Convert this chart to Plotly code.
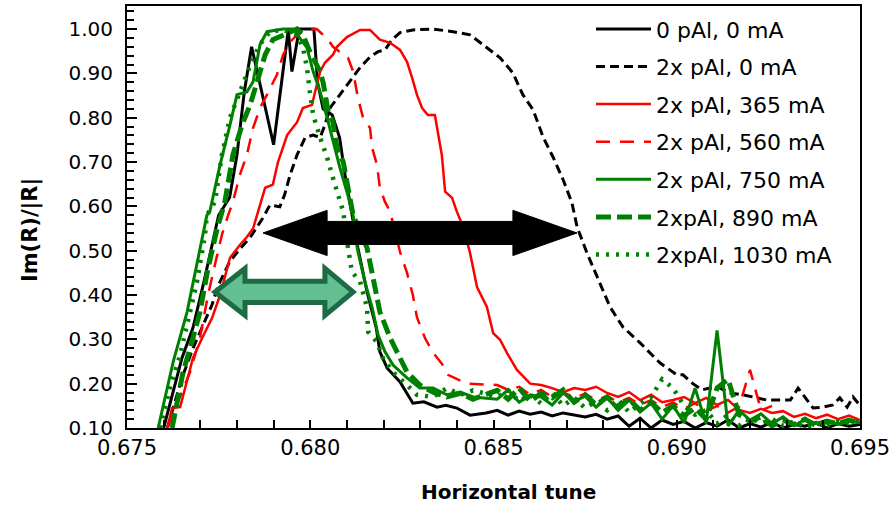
import plotly.graph_objects as go

# ---------------- data ----------------
tail_tune = [0.6848, 0.6851, 0.6854, 0.6857, 0.6860, 0.6863, 0.6866, 0.6869, 0.6872,
             0.6875, 0.6878, 0.6881, 0.6884, 0.6887, 0.6890, 0.6893, 0.6896, 0.6899,
             0.6902, 0.6905, 0.6908, 0.6911, 0.6914, 0.6917, 0.6920, 0.6923, 0.6926,
             0.6929, 0.6932, 0.6935, 0.6938, 0.6941, 0.6944, 0.6947, 0.6950]

# 0 pAl, 0 mA
k0_x = [0.6760, 0.6765, 0.6768, 0.6771, 0.6775, 0.6778, 0.6780, 0.6782, 0.6784, 0.6790,
        0.6794, 0.6795, 0.6797, 0.6801, 0.6802, 0.68035, 0.6806, 0.6808, 0.68095, 0.6811,
        0.6813, 0.68155, 0.6818, 0.6819, 0.6821, 0.68245, 0.6828, 0.6831, 0.68346, 0.6837,
        0.6840, 0.68436]
k0_y = [0.10, 0.258, 0.326, 0.43, 0.58, 0.62, 0.716, 0.858, 0.96, 0.739,
        0.998, 0.904, 1.0, 1.0, 0.88, 0.82, 0.806, 0.755, 0.671, 0.603,
        0.506, 0.407, 0.326, 0.272, 0.235, 0.204, 0.156, 0.159, 0.147, 0.151,
        0.145, 0.129]
k0_tail = [0.134, 0.140, 0.129, 0.138, 0.131, 0.136, 0.127, 0.134, 0.129, 0.125, 0.131,
           0.120, 0.127, 0.104, 0.122, 0.100, 0.118, 0.108, 0.115, 0.100, 0.112, 0.104,
           0.118, 0.100, 0.110, 0.102, 0.113, 0.100, 0.108, 0.104, 0.112, 0.100, 0.110,
           0.104, 0.108]

# 2x pAl, 0 mA
k1_x = [0.6761, 0.6765, 0.6768, 0.67707, 0.67732, 0.67748, 0.6778, 0.6781, 0.67836, 0.67871,
        0.6789, 0.67917, 0.6793, 0.67945, 0.67964, 0.67986, 0.68008, 0.68027, 0.6804, 0.68054,
        0.68081, 0.68108, 0.68136, 0.68163, 0.68185, 0.68204, 0.68223, 0.68245, 0.6828, 0.68335,
        0.6839, 0.68436, 0.68471, 0.68518, 0.68553, 0.6858, 0.68608, 0.68635, 0.68662, 0.6869,
        0.68714, 0.68728, 0.68755, 0.68782, 0.68818, 0.68853, 0.689, 0.68954, 0.69, 0.69017,
        0.69044, 0.69069, 0.6909, 0.69118, 0.69145, 0.6918, 0.69208, 0.69246, 0.69282, 0.6931,
        0.69331, 0.69355, 0.69372, 0.69399, 0.69426, 0.69445, 0.69465, 0.69481, 0.69495]
k1_y = [0.10, 0.213, 0.28, 0.333, 0.378, 0.42, 0.475, 0.506, 0.53, 0.574,
        0.603, 0.599, 0.626, 0.671, 0.716, 0.755, 0.761, 0.755, 0.784, 0.822,
        0.852, 0.88, 0.913, 0.937, 0.949, 0.953, 0.976, 0.992, 0.998, 1.0,
        0.994, 0.987, 0.965, 0.935, 0.901, 0.852, 0.818, 0.757, 0.712, 0.66,
        0.608, 0.554, 0.495, 0.441, 0.373, 0.328, 0.292, 0.247, 0.22, 0.22,
        0.20, 0.186, 0.19, 0.19, 0.179, 0.175, 0.17, 0.163, 0.163, 0.163,
        0.19, 0.163, 0.145, 0.147, 0.152, 0.168, 0.147, 0.17, 0.156]

# 2x pAl, 365 mA
k2_x = [0.6761, 0.67623, 0.67645, 0.67664, 0.6768, 0.67705, 0.67732, 0.67754, 0.67781, 0.67808,
        0.67827, 0.67844, 0.67855, 0.67877, 0.67898, 0.67912, 0.67937, 0.67964, 0.6798, 0.68005,
        0.68013, 0.68027, 0.6804, 0.68062, 0.68073, 0.681, 0.68136, 0.68163, 0.6819, 0.68218,
        0.68245, 0.68264, 0.68278, 0.68291, 0.68305, 0.68321, 0.6834, 0.68349, 0.68359, 0.68368,
        0.68387, 0.684, 0.68417, 0.68436, 0.68455, 0.68482, 0.68499, 0.68518, 0.68537, 0.68564,
        0.68591]
k2_y = [0.10, 0.145, 0.147, 0.204, 0.258, 0.303, 0.348, 0.40, 0.484, 0.513,
        0.531, 0.55, 0.58, 0.642, 0.649, 0.70, 0.761, 0.79, 0.822, 0.829,
        0.858, 0.904, 0.924, 0.942, 0.96, 0.982, 0.998, 0.998, 0.976, 0.969,
        0.953, 0.926, 0.89, 0.852, 0.822, 0.806, 0.806, 0.761, 0.716, 0.633,
        0.619, 0.588, 0.554, 0.495, 0.418, 0.373, 0.314, 0.299, 0.269, 0.231,
        0.208]
k2_tail = [0.20, 0.197, 0.19, 0.181, 0.19, 0.186, 0.193, 0.179, 0.17, 0.181, 0.163,
           0.175, 0.158, 0.163, 0.17, 0.156, 0.168, 0.152, 0.163, 0.141, 0.134, 0.143,
           0.134, 0.138, 0.125, 0.132, 0.122, 0.13, 0.12, 0.128, 0.118]

# 2x pAl, 560 mA
k3_x = [0.6761, 0.67672, 0.67699, 0.67721, 0.67746, 0.67759, 0.67776, 0.67789, 0.67808, 0.67827,
        0.67844, 0.67863, 0.67882, 0.67909, 0.67926, 0.67945, 0.67964, 0.67991, 0.68018, 0.68049,
        0.68062, 0.68103, 0.68117, 0.6813, 0.68144, 0.68163, 0.68169, 0.68182, 0.6819, 0.68204,
        0.68218, 0.68245, 0.68264, 0.6828, 0.68291, 0.68313, 0.68335, 0.68359, 0.68376, 0.684,
        0.68428]
k3_y = [0.10, 0.226, 0.303, 0.40, 0.49, 0.536, 0.58, 0.61, 0.671, 0.716,
        0.777, 0.822, 0.852, 0.897, 0.942, 0.971, 0.987, 0.998, 1.0, 0.976,
        0.96, 0.935, 0.904, 0.845, 0.80, 0.777, 0.732, 0.694, 0.642, 0.61,
        0.588, 0.497, 0.45, 0.40, 0.35, 0.303, 0.27, 0.245, 0.22, 0.21,
        0.20]
k3_tail = [0.197, 0.186, 0.193, 0.175, 0.186, 0.17, 0.181, 0.168, 0.177, 0.163, 0.172,
           0.158, 0.168, 0.152, 0.163, 0.147, 0.158, 0.143, 0.156, 0.138, 0.15, 0.135,
           0.148, 0.231, 0.14, 0.15]

# 2x pAl, 750 mA
k4_x = [0.67585, 0.67626, 0.67664, 0.67691, 0.67718, 0.67726, 0.67754, 0.67781, 0.678, 0.67827,
        0.67844, 0.67863, 0.67882, 0.67909, 0.67926, 0.67953, 0.67972, 0.67991, 0.68008, 0.68027,
        0.68046, 0.68062, 0.68081, 0.681, 0.68117, 0.68128, 0.68149, 0.68169, 0.68185, 0.68204,
        0.68226, 0.68264, 0.68299, 0.68335, 0.68373, 0.68409, 0.68444]
k4_y = [0.10, 0.249, 0.362, 0.468, 0.58, 0.588, 0.694, 0.784, 0.852, 0.858,
        0.881, 0.965, 0.994, 0.998, 1.0, 1.0, 0.98, 0.958, 0.904, 0.858,
        0.80, 0.746, 0.687, 0.633, 0.58, 0.506, 0.43, 0.371, 0.31, 0.272,
        0.242, 0.213, 0.19, 0.19, 0.175, 0.181, 0.17]
k4_tail = [0.165, 0.186, 0.158, 0.175, 0.17, 0.152, 0.179, 0.16, 0.172, 0.147, 0.168,
           0.14, 0.163, 0.136, 0.156, 0.12, 0.15, 0.112, 0.19, 0.11, 0.32, 0.105,
           0.14, 0.118, 0.132, 0.11, 0.125, 0.105, 0.12, 0.11, 0.118, 0.108, 0.115, 0.112]

# 2xpAl, 890 mA
k5_x = [0.67623, 0.67636, 0.67653, 0.67677, 0.67699, 0.67721, 0.67746, 0.67767, 0.67789, 0.67814,
        0.67836, 0.67855, 0.67877, 0.67898, 0.67926, 0.67945, 0.67964, 0.6798, 0.67999, 0.68027,
        0.68035, 0.68049, 0.68062, 0.68073, 0.6809, 0.68103, 0.68117, 0.68155, 0.68177, 0.6819,
        0.68218, 0.6824, 0.68264, 0.68299, 0.68335, 0.68373, 0.6841, 0.68444]
k5_y = [0.10, 0.159, 0.226, 0.294, 0.362, 0.46, 0.55, 0.61, 0.716, 0.784,
        0.829, 0.881, 0.942, 0.976, 0.987, 0.994, 1.0, 0.987, 0.949, 0.904,
        0.88, 0.813, 0.79, 0.732, 0.70, 0.642, 0.58, 0.506, 0.42, 0.362,
        0.303, 0.265, 0.226, 0.197, 0.181, 0.17, 0.178, 0.165]
k5_tail = [0.185, 0.165, 0.19, 0.16, 0.178, 0.168, 0.186, 0.158, 0.175, 0.152, 0.17,
           0.148, 0.165, 0.14, 0.158, 0.135, 0.15, 0.128, 0.145, 0.12, 0.19, 0.21,
           0.13, 0.115, 0.125, 0.105, 0.118, 0.108, 0.12, 0.105, 0.115, 0.11, 0.118, 0.11]

# 2xpAl, 1030 mA
k6_x = [0.6759, 0.67617, 0.67645, 0.67667, 0.67691, 0.67713, 0.67718, 0.6774, 0.67759, 0.67781,
        0.67803, 0.67827, 0.67844, 0.67868, 0.6789, 0.67926, 0.67964, 0.6798, 0.67991, 0.67999,
        0.68008, 0.68027, 0.68046, 0.68062, 0.68081, 0.6809, 0.68103, 0.68114, 0.68136, 0.68155,
        0.68158, 0.68182, 0.68198, 0.68226, 0.68264, 0.68291, 0.68335, 0.68373, 0.6841, 0.68444]
k6_y = [0.10, 0.19, 0.265, 0.339, 0.43, 0.536, 0.58, 0.61, 0.716, 0.80,
        0.845, 0.897, 0.935, 0.971, 0.994, 0.998, 0.987, 0.958, 0.913, 0.858,
        0.806, 0.755, 0.71, 0.664, 0.61, 0.588, 0.506, 0.452, 0.43, 0.371,
        0.317, 0.294, 0.258, 0.226, 0.197, 0.175, 0.17, 0.19, 0.175, 0.185]
k6_tail = [0.17, 0.185, 0.16, 0.175, 0.155, 0.18, 0.15, 0.168, 0.145, 0.16, 0.14,
           0.165, 0.135, 0.155, 0.17, 0.21, 0.19, 0.15, 0.13, 0.14, 0.11, 0.13,
           0.105, 0.125, 0.11, 0.12, 0.105, 0.115, 0.10, 0.11, 0.105, 0.115, 0.11, 0.118]

series_names = ["0 pAl, 0 mA", "2x pAl, 0 mA", "2x pAl, 365 mA", "2x pAl, 560 mA",
                "2x pAl, 750 mA", "2xpAl, 890 mA", "2xpAl, 1030 mA"]

x_ticks = [0.675, 0.680, 0.685, 0.690, 0.695]
y_ticks = [0.10, 0.20, 0.30, 0.40, 0.50, 0.60, 0.70, 0.80, 0.90, 1.00]

x_title = "Horizontal tune"
y_title = "Im(R)/|R|"

# arrows (annotation geometry, in data units)
black_arrow = dict(x0=0.67871, x1=0.68728, xb0=0.68046, xb1=0.68553, yc=0.540, hs=0.026, hh=0.051)
green_arrow = dict(x0=0.67740, x1=0.68117, xb0=0.67822, xb1=0.68040, yc=0.407, hs=0.024, hh=0.053)


def join(mx, my, tail, start):
    if tail is None:
        return mx, my
    tx = tail_tune[start:start + len(tail)]
    return mx + tx, my + tail


data = [
    join(k0_x, k0_y, k0_tail, 0),
    join(k1_x, k1_y, None, 0),
    join(k2_x, k2_y, k2_tail, 4),
    join(k3_x, k3_y, k3_tail, 1),
    join(k4_x, k4_y, k4_tail, 1),
    join(k5_x, k5_y, k5_tail, 1),
    join(k6_x, k6_y, k6_tail, 1),
]

styles = [
    dict(color="#000000", width=3, dash="solid"),
    dict(color="#000000", width=3, dash="9px,5px"),
    dict(color="#ff0000", width=2.5, dash="solid"),
    dict(color="#ff0000", width=2.5, dash="14px,10px"),
    dict(color="#008000", width=3, dash="solid"),
    dict(color="#008000", width=5, dash="15px,6px"),
    dict(color="#008000", width=4.5, dash="3px,7px"),
]

FONT = "DejaVu Sans"
fig = go.Figure()
for i, ((xs, ys), st, nm) in enumerate(zip(data, styles, series_names)):
    fig.add_trace(go.Scatter(x=xs, y=ys, mode="lines", name=nm, line=st,
                             legendgroup=f"g{i}", cliponaxis=True))


def arrow_path(a):
    x0, x1, xb0, xb1, yc, hs, hh = a["x0"], a["x1"], a["xb0"], a["xb1"], a["yc"], a["hs"], a["hh"]
    pts = [(x0, yc), (xb0, yc + hh), (xb0, yc + hs), (xb1, yc + hs), (xb1, yc + hh),
           (x1, yc), (xb1, yc - hh), (xb1, yc - hs), (xb0, yc - hs), (xb0, yc - hh)]
    return "M " + " L ".join(f"{px},{py}" for px, py in pts) + " Z"


fig.add_shape(type="path", xref="x", yref="y", path=arrow_path(black_arrow),
              fillcolor="#000000", line=dict(color="#000000", width=1), layer="above")
fig.add_shape(type="path", xref="x", yref="y", path=arrow_path(green_arrow),
              fillcolor="#63bf91", line=dict(color="#1d6b44", width=5), layer="above")

fig.add_annotation(text=f"<b>{x_title}</b>", xref="paper", yref="paper", x=0.521, y=-0.152,
                   xanchor="center", yanchor="middle", showarrow=False,
                   font=dict(family=FONT, size=20, color="black"))
fig.add_annotation(text=f"<b>{y_title}</b>", xref="paper", yref="paper", x=-0.1323, y=0.469,
                   xanchor="center", yanchor="middle", showarrow=False, textangle=-90,
                   font=dict(family=FONT, size=21, color="black"))

fig.update_layout(
    width=892, height=505,
    margin=dict(l=127, r=32, t=6, b=77),
    paper_bgcolor="white", plot_bgcolor="white",
    font=dict(family=FONT, size=20, color="black"),
    showlegend=True,
    legend=dict(x=0.633, y=0.995, xanchor="left", yanchor="top",
                bgcolor="rgba(0,0,0,0)", borderwidth=0,
                font=dict(family=FONT, size=22, color="black"),
                itemwidth=55, tracegroupgap=6, traceorder="grouped"),
    xaxis=dict(range=[0.675, 0.695], tickvals=x_ticks, tickformat=".3f",
               ticks="inside", ticklen=8, tickwidth=1.5, tickcolor="black",
               minor=dict(dtick=0.001, tick0=0.675, ticks="inside", ticklen=8,
                          tickwidth=1.5, tickcolor="black"),
               showline=True, linewidth=2, linecolor="black", mirror=True,
               showgrid=False, zeroline=False, automargin=False,
               ticklabelstandoff=0,
               tickfont=dict(family=FONT, size=21)),
    yaxis=dict(range=[0.10, 1.052], tickvals=y_ticks, tickformat=".2f",
               ticks="inside", ticklen=10, tickwidth=1.5, tickcolor="black",
               minor=dict(dtick=0.02, tick0=0.10, ticks="inside", ticklen=7,
                          tickwidth=1.5, tickcolor="black"),
               showline=True, linewidth=2, linecolor="black", mirror=True,
               showgrid=False, zeroline=False, automargin=False,
               ticklabelstandoff=8,
               tickfont=dict(family=FONT, size=20)),
)

fig.write_html("out.html", config={"displayModeBar": False},
               post_script="document.body.style.margin='0';document.body.style.overflow='hidden';")
